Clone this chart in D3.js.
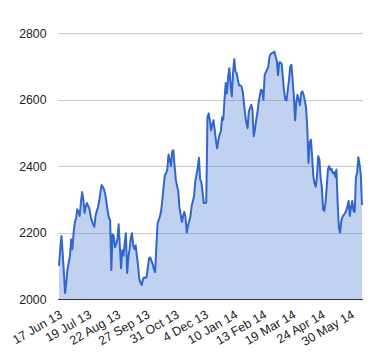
<!DOCTYPE html>
<html>
<head>
<meta charset="utf-8">
<script src="https://cdn.jsdelivr.net/npm/d3@7/dist/d3.min.js"></script>
<style>
  html, body { margin: 0; padding: 0; background: #fff; }
  svg { display: block; }
  text { font-family: Arial, "Liberation Sans", sans-serif; fill: #222; }
</style>
</head>
<body>
<svg id="chart" width="380" height="360"></svg>
<script>
// Tick labels on the category axis (every 24th trading day)
const xTickLabels = ["17 Jun 13", "19 Jul 13", "22 Aug 13", "27 Sep 13", "31 Oct 13", "4 Dec 13",
  "10 Jan 14", "13 Feb 14", "19 Mar 14", "24 Apr 14", "30 May 14"];
const xTickStep = 24;
const yTicks = [2000, 2200, 2400, 2600, 2800];

// Daily values
const values = [
  2100, 2150, 2190, 2138, 2080, 2018, 2050, 2090, 2110, 2130,
  2180, 2150, 2200, 2230, 2244, 2270, 2262, 2250, 2290, 2322,
  2300, 2259, 2280, 2289, 2280, 2272, 2250, 2235, 2225, 2217,
  2250, 2265, 2275, 2295, 2320, 2343, 2338, 2330, 2315, 2292,
  2265, 2244, 2238, 2087, 2195, 2190, 2156, 2165, 2180, 2225,
  2160, 2093, 2147, 2130, 2170, 2198, 2078, 2125, 2150, 2185,
  2198, 2160, 2150, 2162, 2130, 2100, 2060, 2048, 2042, 2060,
  2065, 2063, 2066, 2095, 2123, 2125, 2115, 2105, 2090, 2081,
  2160, 2228, 2238, 2250, 2268, 2300, 2340, 2373, 2378, 2390,
  2435, 2420, 2400, 2445, 2448, 2400, 2360, 2340, 2325, 2275,
  2255, 2232, 2250, 2262, 2245, 2200, 2220, 2235, 2248, 2280,
  2295, 2310, 2355, 2375, 2395, 2425, 2360, 2352, 2320, 2289,
  2289, 2290, 2547, 2559, 2538, 2508, 2525, 2538, 2508, 2475,
  2454, 2480, 2495, 2505, 2547, 2540, 2600, 2650, 2619, 2670,
  2695, 2645, 2610, 2680, 2722, 2685, 2680, 2660, 2643, 2643,
  2640, 2625, 2589, 2555, 2530, 2514, 2565, 2575, 2585, 2570,
  2490, 2510, 2538, 2560, 2590, 2612, 2630, 2628, 2600, 2675,
  2683, 2690, 2700, 2730, 2738, 2740, 2742, 2745, 2730, 2715,
  2674, 2713, 2712, 2708, 2665, 2625, 2600, 2598, 2630, 2659,
  2700, 2705, 2660, 2610, 2538, 2592, 2615, 2600, 2583, 2620,
  2625, 2615, 2598, 2577, 2520, 2410, 2470, 2480, 2430, 2370,
  2348, 2338, 2370, 2430, 2420, 2365, 2337, 2270, 2265, 2290,
  2337, 2390, 2400, 2388, 2392, 2379, 2382, 2368, 2390, 2289,
  2215, 2200, 2235, 2248, 2253, 2258, 2265, 2280, 2295, 2250,
  2277, 2295, 2265, 2262, 2365, 2380, 2427, 2405, 2375, 2283
];

const svg = d3.select("#chart");
const plotLeft = 59, plotRight = 362, plotTop = 33.3, plotBottom = 299;

const x = d3.scaleLinear().domain([0, values.length - 1]).range([plotLeft, plotRight]);
const y = d3.scaleLinear().domain([2000, 2800]).range([plotBottom, plotTop]);

// Gridlines
svg.append("g").selectAll("line")
  .data(yTicks.filter(d => d !== 2000))
  .join("line")
  .attr("x1", plotLeft - 1).attr("x2", plotRight + 1)
  .attr("y1", d => Math.round(y(d)) + 0.5).attr("y2", d => Math.round(y(d)) + 0.5)
  .attr("stroke", "#cccccc").attr("stroke-width", 1);

// Area
const area = d3.area()
  .x((d, i) => x(i))
  .y0(y(2000))
  .y1(d => y(d));
svg.append("path")
  .datum(values)
  .attr("d", area)
  .attr("fill", "#3366cc")
  .attr("fill-opacity", 0.3);

// Line
const line = d3.line()
  .x((d, i) => x(i))
  .y(d => y(d));
svg.append("path")
  .datum(values)
  .attr("d", line)
  .attr("fill", "none")
  .attr("stroke", "#3366cc")
  .attr("stroke-width", 2)
  .attr("stroke-linejoin", "round");

// Baseline
svg.append("line")
  .attr("x1", plotLeft - 1).attr("x2", plotRight + 1)
  .attr("y1", Math.round(y(2000)) + 0.5).attr("y2", Math.round(y(2000)) + 0.5)
  .attr("stroke", "#333333").attr("stroke-width", 1);

// Y axis labels
svg.append("g").selectAll("text")
  .data(yTicks)
  .join("text")
  .attr("x", 46.5)
  .attr("y", d => y(d) + 4.5)
  .attr("text-anchor", "end")
  .attr("font-size", "12.3px")
  .text(d => d);

// X axis labels (slanted)
svg.append("g").selectAll("text")
  .data(xTickLabels)
  .join("text")
  .attr("text-anchor", "end")
  .attr("font-size", "12.5px")
  .attr("transform", (d, i) => `translate(${x(i * xTickStep) + 4.2},317) rotate(-30)`)
  .text(d => d);
</script>
</body>
</html>
